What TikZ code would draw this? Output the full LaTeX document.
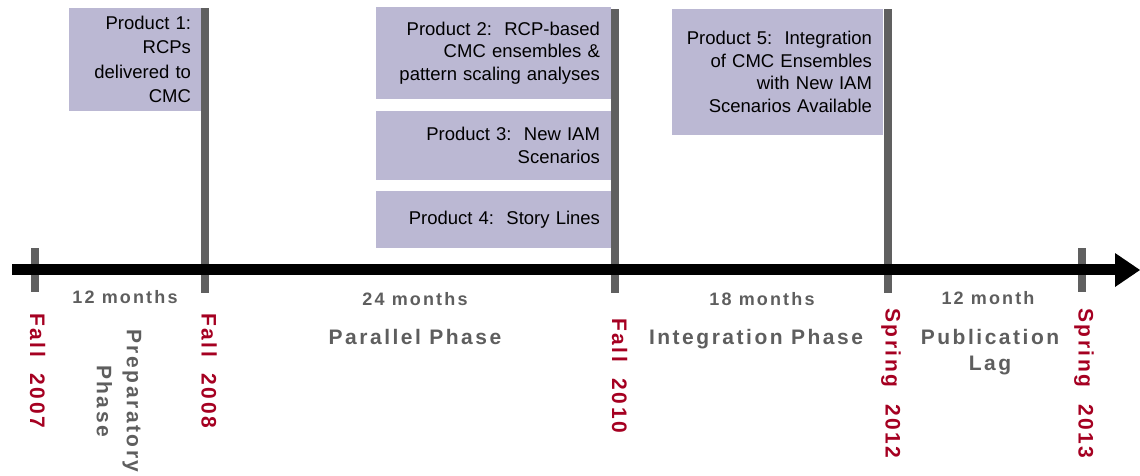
\documentclass[tikz,border=0pt]{standalone}
\usepackage{fontspec}
\setmainfont{Liberation Sans}
\newfontfamily\spc[LetterSpace=12]{Liberation Sans}
\definecolor{boxfill}{HTML}{BBB8D3}
\definecolor{tickgray}{HTML}{606060}
\definecolor{txtgray}{HTML}{5E5E5E}
\definecolor{datered}{HTML}{A50021}
\tikzset{
  prod/.style={fill=boxfill, inner xsep=11pt, inner ysep=0pt, align=right,
    font=\fontsize{18.5}{22.5}\selectfont},
  tickline/.style={draw=tickgray, line width=8pt},
  dur/.style={text=txtgray, inner sep=0pt, font=\spc\bfseries\fontsize{18}{20}\selectfont},
  phase/.style={text=txtgray, inner sep=0pt, align=center, font=\spc\bfseries\fontsize{21}{26}\selectfont},
  datelbl/.style={text=datered, inner sep=0pt, rotate=-90, anchor=base west,
    font=\spc\bfseries\fontsize{21}{24}\selectfont},
}
\begin{document}
\begin{tikzpicture}[x=1pt,y=-1pt]
\useasboundingbox (0,0) rectangle (1140,475);

% product boxes
\node[prod, text width=111pt, minimum height=103pt, font=\fontsize{18.5}{24.5}\selectfont] (p1) at (135.5,59.5)
  {Product 1:\\RCPs\\delivered to\\CMC};
\node[prod, text width=213pt, minimum height=92pt] (p2) at (493.5,53)
  {Product 2:\ \ RCP-based\\CMC ensembles \&\\pattern scaling analyses};
\node[prod, text width=213pt, minimum height=69pt] (p3) at (493.5,145.5)
  {Product 3:\ \ New IAM\\Scenarios};
\node[prod, text width=213pt, minimum height=57pt] (p4) at (493.5,219.5)
  {Product 4:\ \ Story Lines};
\node[prod, text width=189pt, minimum height=126pt] (p5) at (777.5,72)
  {Product 5:\ \ Integration\\of CMC Ensembles\\with New IAM\\Scenarios Available};

% ticks
\coordinate (t1a) at (35,248);  \coordinate (t1b) at (35,292);
\coordinate (t2a) at (205,8);   \coordinate (t2b) at (205,293);
\coordinate (t3a) at (615,9);   \coordinate (t3b) at (615,293);
\coordinate (t4a) at (888,9);   \coordinate (t4b) at (888,293);
\coordinate (t5a) at (1082,248);\coordinate (t5b) at (1082,292);
\draw[tickline] (t1a) -- (t1b);
\draw[tickline] (t2a) -- (t2b);
\draw[tickline] (t3a) -- (t3b);
\draw[tickline] (t4a) -- (t4b);
\draw[tickline] (t5a) -- (t5b);

% main time arrow
\coordinate (axs) at (12,269.5);
\coordinate (axe) at (1116,269.5);
\draw[line width=11pt, black] (axs) -- (axe);
\fill[black] (1115,253) -- (1140,270) -- (1115,287) -- cycle;

% durations
\node[dur] (d1) at (125,297) {12 months};
\node[dur] (d2) at (415,299) {24 months};
\node[dur] (d3) at (762,299.5) {18 months};
\node[dur] (d4) at (988,298.5) {12 month};

% phases
\node[phase] (ph2) at (415,336.5) {Parallel Phase};
\node[phase] (ph3) at (756,339) {Integration Phase};
\node[phase, font=\spc\bfseries\fontsize{21}{25.5}\selectfont] (ph4) at (990,352) {Publication\\Lag};
\node[phase, rotate=-90, font=\spc\bfseries\fontsize{21}{30}\selectfont] (ph1) at (119,401) {Preparatory\\Phase};

% dates
\node[datelbl] (f07) at (30,313) {Fall\ \ 2007};
\node[datelbl] (f08) at (201.5,313) {Fall\ \ 2008};
\node[datelbl] (f10) at (612,318) {Fall\ \ 2010};
\node[datelbl] (s12) at (885.5,308) {Spring\ \ 2012};
\node[datelbl] (s13) at (1078.5,308) {Spring\ \ 2013};
\end{tikzpicture}
\end{document}
